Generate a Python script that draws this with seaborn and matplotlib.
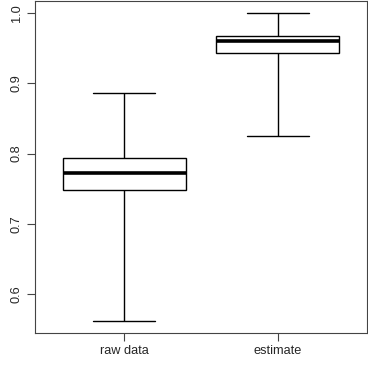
import matplotlib
matplotlib.use("Agg")
import matplotlib.pyplot as plt
import seaborn as sns
import pandas as pd
import numpy as np

# five-number summaries (min, q1, median, q3, max)
groups = ["raw data", "estimate"]
raw_data = [0.562, 0.748, 0.772, 0.794, 0.886]
estimate = [0.825, 0.943, 0.960, 0.967, 1.000]
y_ticks = [0.6, 0.7, 0.8, 0.9, 1.0]

df = pd.DataFrame({
    "group": [groups[0]] * len(raw_data) + [groups[1]] * len(estimate),
    "value": raw_data + estimate,
})

sns.set_style("white")
plt.rcParams["font.family"] = ["Liberation Sans", "DejaVu Sans"]

fig = plt.figure(figsize=(3.68, 3.69), dpi=100)
ax = fig.add_axes([35 / 368, 1 - 333 / 369, 332 / 368, 332 / 369])

sns.boxplot(
    data=df, x="group", y="value", order=groups, ax=ax,
    color="white", linecolor="black", linewidth=1.0, width=0.8,
    whis=(0, 100), showfliers=False,
    medianprops={"linewidth": 2.6, "color": "black"},
)

ax.set_xlim(-0.58, 1.58)
ax.set_ylim(0.5445, 1.0175)
ax.set_yticks(y_ticks)
ax.set_yticklabels([f"{t:.1f}" for t in y_ticks], rotation=90, va="center")
ax.set_xlabel("")
ax.set_ylabel("")
ax.tick_params(axis="both", direction="out", length=5.8, width=0.8,
               color="#444444", labelsize=9.2, pad=3, left=True, bottom=True)
for s in ax.spines.values():
    s.set_visible(True)
    s.set_color("#444444")
    s.set_linewidth(0.8)

fig.savefig("out.png", dpi=100)
